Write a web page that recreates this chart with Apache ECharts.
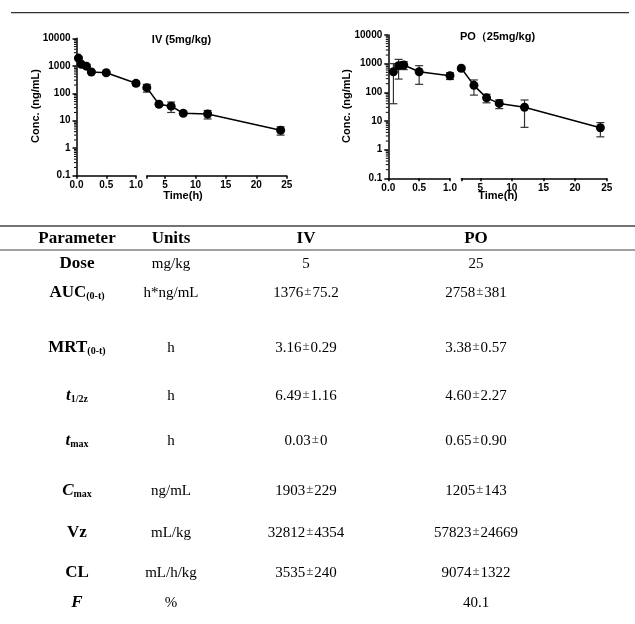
<!DOCTYPE html>
<html><head><meta charset="utf-8">
<script src="https://cdn.jsdelivr.net/npm/echarts@6/dist/echarts.min.js"></script>
<style>html,body{margin:0;padding:0;background:#fff}#c{width:635px;height:624px}</style>
</head><body><div id="c"></div>
<script>
// ---- chart data ----
const ivTime = [0.033, 0.083, 0.167, 0.25, 0.5, 1, 2, 4, 6, 8, 12, 24];
const ivMean = [1903, 1130, 970, 594, 560, 230, 160, 40, 34, 18.7, 17.6, 4.5];
const ivSD   = [229, 120, 150, 60, 60, 40, 50, 6, 14, 2, 6, 1.5];
const poTime = [0.083, 0.167, 0.25, 0.5, 1, 2, 4, 6, 8, 12, 24];
const poMean = [520, 850, 900, 520, 380, 690, 175, 64, 41, 30, 5.8];
const poSD   = [480, 560, 280, 330, 100, 100, 95, 21, 14, 24, 3];
const yTickValues = [0.1, 1, 10, 100, 1000, 10000];
const xLeftTicks = [0, 0.5, 1];
const xRightTickValues = [2, 5, 10, 15, 20, 25];
const xRightLabelValues = [5, 10, 15, 20, 25];
const chartTitles = ['IV (5mg/kg)', 'PO\uFF0825mg/kg)'];
const yName = 'Conc. (ng/mL)';
const xName = 'Time(h)';

// ---- table data ----
const tableHeader = ['Parameter', 'Units', 'IV', 'PO'];
const paramLabels = ['{b|Dose}', '{b|AUC}{s|(0-t)}', '{b|MRT}{s|(0-t)}', '{bi|t}{s|1/2z}', '{bi|t}{s|max}', '{bi|C}{s|max}', '{b|Vz}', '{b|CL}', '{bi|F}'];
const unitLabels = ['mg/kg', 'h*ng/mL', 'h', 'h', 'h', 'ng/mL', 'mL/kg', 'mL/h/kg', '%'];
const ivMeanTab = ['5', '1376', '3.16', '6.49', '0.03', '1903', '32812', '3535', ''];
const ivSdTab   = ['', '75.2', '0.29', '1.16', '0', '229', '4354', '240', ''];
const poMeanTab = ['25', '2758', '3.38', '4.60', '0.65', '1205', '57823', '9074', '40.1'];
const poSdTab   = ['', '381', '0.57', '2.27', '0.90', '143', '24669', '1322', ''];

// ---- layout ----
const SANS = '"Liberation Sans", Arial, sans-serif';
const SERIF = '"Liberation Serif", "Times New Roman", serif';
const grids = [
  {left: 76.5, top: 38.3, width: 59.5, height: 137.4},
  {left: 146.8, top: 38.3, width: 139.9, height: 137.4},
  {left: 388.3, top: 35, width: 61.7, height: 143.3},
  {left: 461.3, top: 35, width: 145.4, height: 143.3}
];
const rowY = [264, 293, 348, 396, 441, 491, 533, 573, 603];
const colX = [77, 171, 306, 476];
const headerY = 239;

const axisLineStyle = {color: '#000', width: 1.5};
function xAxisLeft(gi) {
  return {type: 'value', gridIndex: gi, min: 0, max: 1, interval: 0.5,
    axisLine: {show: true, lineStyle: axisLineStyle}, axisTick: {show: true, length: 3, lineStyle: axisLineStyle},
    splitLine: {show: false},
    axisLabel: {margin: 5, color: '#000', fontFamily: SANS, fontWeight: 'bold', fontSize: 10, formatter: v => v.toFixed(1)}};
}
function xAxisRight(gi) {
  return {type: 'value', gridIndex: gi, min: 2, max: 25,
    axisLine: {show: true, lineStyle: axisLineStyle},
    axisTick: {show: true, length: 3, lineStyle: axisLineStyle, customValues: xRightTickValues},
    splitLine: {show: false},
    axisLabel: {margin: 5, color: '#000', fontFamily: SANS, fontWeight: 'bold', fontSize: 10, customValues: xRightLabelValues}};
}
function yAxis(gi, show) {
  return {type: 'log', logBase: 10, gridIndex: gi, min: 0.1, max: 10000, show: show,
    axisLine: {show: true, lineStyle: axisLineStyle}, axisTick: {show: true, length: 4, lineStyle: axisLineStyle},
    splitLine: {show: false},
    axisLabel: {margin: 6, color: '#000', fontFamily: SANS, fontWeight: 'bold', fontSize: 10,
      formatter: v => v < 1 ? '0.1' : String(Math.round(v))}};
}

function split(t, m, s, left) {
  const out = [];
  for (let i = 0; i < t.length; i++) {
    if ((left && t[i] <= 1) || (!left && t[i] >= 2)) out.push([t[i], m[i], s[i]]);
  }
  return out;
}
function lineSeries(gi, data) {
  return {type: 'line', xAxisIndex: gi, yAxisIndex: gi, data: data.map(d => [d[0], d[1]]),
    symbol: 'circle', symbolSize: 9, itemStyle: {color: '#000'}, lineStyle: {color: '#000', width: 1.5},
    z: 3, silent: true, animation: false};
}
function errSeries(gi, data) {
  return {type: 'custom', xAxisIndex: gi, yAxisIndex: gi, data: data, encode: {x: 0, y: 1},
    z: 2, silent: true, animation: false, clip: false,
    renderItem: function (params, api) {
      const x = api.value(0), m = api.value(1), s = api.value(2);
      const p1 = api.coord([x, m + s]);
      const p2 = api.coord([x, Math.max(m - s, 0.1)]);
      const st = {stroke: '#333', lineWidth: 1.2};
      return {type: 'group', children: [
        {type: 'line', shape: {x1: p1[0], y1: p1[1], x2: p2[0], y2: p2[1]}, style: st},
        {type: 'line', shape: {x1: p1[0] - 4, y1: p1[1], x2: p1[0] + 4, y2: p1[1]}, style: st},
        {type: 'line', shape: {x1: p2[0] - 4, y1: p2[1], x2: p2[0] + 4, y2: p2[1]}, style: st}
      ]};
    }};
}
const minorVals = [];
for (let k = -1; k < 4; k++) for (let j = 2; j < 10; j++) minorVals.push(j * Math.pow(10, k));
function minorSeries(gi) {
  return {type: 'custom', xAxisIndex: gi, yAxisIndex: gi, data: minorVals.map(v => [0, v]),
    encode: {x: 0, y: 1}, z: 4, silent: true, animation: false, clip: false,
    renderItem: function (params, api) {
      const p = api.coord([0, api.value(1)]);
      return {type: 'line', shape: {x1: p[0] - 2.5, y1: p[1], x2: p[0], y2: p[1]}, style: {stroke: '#000', lineWidth: 1}};
    }};
}

const series = [];
[[ivTime, ivMean, ivSD, 0], [poTime, poMean, poSD, 2]].forEach(([t, m, s, g]) => {
  const L = split(t, m, s, true), R = split(t, m, s, false);
  series.push(errSeries(g, L), lineSeries(g, L), errSeries(g + 1, R), lineSeries(g + 1, R), minorSeries(g));
});

// ---- graphic texts ----
const graphic = [];
function txt(x, y, text, font, extra) {
  const o = {type: 'text', x: x, y: y, silent: true,
    style: Object.assign({text: text, font: font, fill: '#000', align: 'center', verticalAlign: 'middle',
      textAlign: 'center', textVerticalAlign: 'middle'}, extra || {})};
  graphic.push(o);
  return o;
}
function hline(x1, x2, y, w, c) {
  graphic.push({type: 'line', silent: true, shape: {x1: x1, y1: y, x2: x2, y2: y}, style: {stroke: c, lineWidth: w}});
}
hline(11, 629, 12.7, 1.3, '#333');
const chartText = [
  {title: [181.5, 40], yname: [36, 106], xname: [183, 196]},
  {title: [497.5, 36.5], yname: [346.5, 106], xname: [498, 196]}
];
chartText.forEach((c, i) => {
  txt(c.title[0], c.title[1], chartTitles[i], 'bold 11px ' + SANS);
  const o = txt(c.yname[0], c.yname[1], yName, 'bold 11px ' + SANS);
  o.rotation = Math.PI / 2;
  txt(c.xname[0], c.xname[1], xName, 'bold 11px ' + SANS);
});
hline(0, 635, 226, 1.6, '#444');
hline(0, 635, 250, 1, '#444');
tableHeader.forEach((h, i) => txt(colX[i], headerY, h, 'bold 17px ' + SERIF));
const rich = {
  b: {fontFamily: SERIF, fontWeight: 'bold', fontSize: 17, fill: '#000'},
  bi: {fontFamily: SERIF, fontWeight: 'bold', fontStyle: 'italic', fontSize: 17, fill: '#000'},
  s: {fontFamily: SERIF, fontWeight: 'bold', fontSize: 10, fill: '#000', verticalAlign: 'bottom', padding: [6, 0, 0, 0]},
  n: {fontFamily: SERIF, fontSize: 15, fill: '#000'},
  pm: {fontFamily: SERIF, fontSize: 13, fill: '#333', verticalAlign: 'top', padding: [0, 1, 3, 1]}
};
function valStr(m, s) { return s ? '{n|' + m + '}{pm|\u00B1}{n|' + s + '}' : (m ? '{n|' + m + '}' : ''); }
paramLabels.forEach((p, r) => {
  txt(colX[0], rowY[r], p, 'bold 17px ' + SERIF, {rich: rich});
  txt(colX[1], rowY[r], unitLabels[r], '15px ' + SERIF);
  const iv = valStr(ivMeanTab[r], ivSdTab[r]);
  if (iv) txt(colX[2], rowY[r], iv, '15px ' + SERIF, {rich: rich});
  const po = valStr(poMeanTab[r], poSdTab[r]);
  if (po) txt(colX[3], rowY[r], po, '15px ' + SERIF, {rich: rich});
});

const chart = echarts.init(document.getElementById('c'), null, {renderer: 'canvas'});
chart.setOption({
  animation: false,
  backgroundColor: '#fff',
  grid: grids,
  xAxis: [xAxisLeft(0), xAxisRight(1), xAxisLeft(2), xAxisRight(3)],
  yAxis: [yAxis(0, true), yAxis(1, false), yAxis(2, true), yAxis(3, false)],
  series: series,
  graphic: graphic
});
</script></body></html>
